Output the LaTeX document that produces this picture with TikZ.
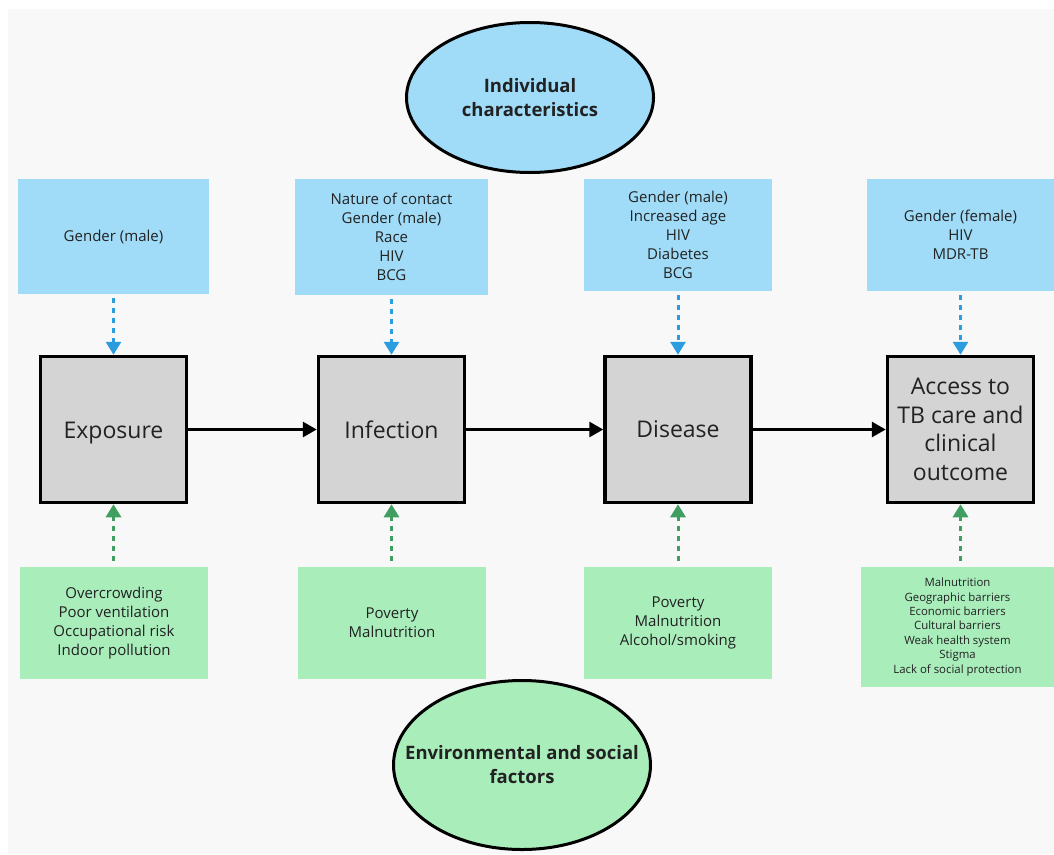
\documentclass[tikz,border=0pt]{standalone}
\usepackage{fontspec}
\setmainfont{Open Sans}
\usetikzlibrary{arrows.meta,shapes.geometric}

\definecolor{panel}{HTML}{F8F8F8}
\definecolor{skyfill}{HTML}{A0DCF8}
\definecolor{mintfill}{HTML}{A9EDBB}
\definecolor{skyline}{HTML}{2B9CDE}
\definecolor{mintline}{HTML}{409E60}
\definecolor{stagefill}{HTML}{D4D4D4}
\definecolor{ink}{HTML}{222222}

% centred line of zero width, so an ellipse keeps its own size
\newcommand{\zeroline}[1]{\makebox[0pt]{#1}}

\tikzset{
  factorbox/.style={rectangle, inner sep=0pt, align=center, text=ink,
    font=\fontsize{15}{19}\selectfont},
  indbox/.style={factorbox, fill=skyfill},
  envbox/.style={factorbox, fill=mintfill},
  stagebox/.style={rectangle, draw=black, line width=3.5pt, fill=stagefill,
    minimum width=146pt, minimum height=146pt, inner sep=0pt, align=center,
    text=ink, font=\fontsize{23}{28.5}\selectfont},
  topic/.style={ellipse, draw=black, line width=3pt, inner sep=0pt,
    align=center, text=ink, font=\fontsize{18.5}{24}\selectfont\bfseries},
  indarrow/.style={draw=skyline, line width=3pt, dash pattern=on 5pt off 5pt,
    shorten <=4pt, -{Triangle[width=15pt,length=13pt]}},
  envarrow/.style={draw=mintline, line width=3pt, dash pattern=on 5pt off 5pt,
    shorten <=6pt, -{Triangle[width=15pt,length=13pt]}},
  flow/.style={draw=black, line width=3pt, -{Triangle[width=15pt,length=14pt]}},
}

\begin{document}
\begin{tikzpicture}[x=1pt, y=-1pt]
  % canvas and panel
  \useasboundingbox (0,0) rectangle (1054,854);
  \fill[white] (0,0) rectangle (1054,854);
  \fill[panel] (8,9) rectangle (1054,854);

  % group headings
  \node[topic, fill=skyfill, minimum width=247pt, minimum height=150pt]
    (indiv) at (530,97.5) {\zeroline{Individual}\\\zeroline{characteristics}};
  \node[topic, fill=mintfill, minimum width=257pt, minimum height=169pt]
    (envir) at (522,765) {\zeroline{Environmental and social}\\\zeroline{factors}};

  % individual characteristics
  \node[indbox, minimum width=191pt, minimum height=115pt] (i1) at (113.5,236.5)
    {Gender (male)};
  \node[indbox, minimum width=193pt, minimum height=116pt] (i2) at (391.5,237)
    {Nature of contact\\Gender (male)\\Race\\HIV\\BCG};
  \node[indbox, minimum width=188pt, minimum height=112pt] (i3) at (678,235)
    {Gender (male)\\Increased age\\HIV\\Diabetes\\BCG};
  \node[indbox, minimum width=187pt, minimum height=112pt] (i4) at (960.5,235)
    {Gender (female)\\HIV\\MDR-TB};

  % stages (the descender of "p" is offset so all labels share one baseline)
  \node[stagebox] (s1) at (113.5,429.5) {\raisebox{-3.5pt}[\height][\depth]{Exposure}};
  \node[stagebox] (s2) at (391.5,429.5) {Infection};
  \node[stagebox] (s3) at (678,429.5) {Disease};
  \node[stagebox] (s4) at (960.5,429.5) {Access to\\TB care and\\clinical\\outcome};

  % environmental and social factors
  \node[envbox, minimum width=188pt, minimum height=112pt] (e1) at (114,623)
    {Overcrowding\\Poor ventilation\\Occupational risk\\Indoor pollution};
  \node[envbox, minimum width=188pt, minimum height=112pt] (e2) at (392,623)
    {Poverty\\Malnutrition};
  \node[envbox, minimum width=188pt, minimum height=112pt] (e3) at (678,623)
    {Poverty\\Malnutrition\\Alcohol/smoking};
  \node[envbox, minimum width=193pt, minimum height=120pt,
    font=\fontsize{11.4}{14.4}\selectfont] (e4) at (957.5,627)
    {Malnutrition\\Geographic barriers\\Economic barriers\\Cultural barriers\\Weak health system\\Stigma\\Lack of social protection};

  % pathway
  \draw[flow] (s1) -- (s2);
  \draw[flow] (s2) -- (s3);
  \draw[flow] (s3) -- (s4);

  % influences from above
  \draw[indarrow] (i1.south) -- (s1.north);
  \draw[indarrow] (i2.south) -- (s2.north);
  \draw[indarrow] (i3.south) -- (s3.north);
  \draw[indarrow] (i4.south) -- (s4.north);

  % influences from below
  \draw[envarrow] (e1.north -| s1.south) -- (s1.south);
  \draw[envarrow] (e2.north -| s2.south) -- (s2.south);
  \draw[envarrow] (e3.north -| s3.south) -- (s3.south);
  \draw[envarrow] (e4.north -| s4.south) -- (s4.south);
\end{tikzpicture}
\end{document}
